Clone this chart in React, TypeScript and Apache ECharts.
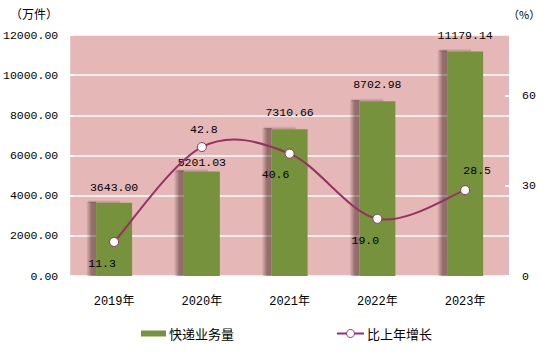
import React, { useEffect, useRef } from "react";
import * as echarts from "echarts";

const categories = ["2019年", "2020年", "2021年", "2022年", "2023年"];
const volume = [3643.0, 5201.03, 7310.66, 8702.98, 11179.14];
const growth = [11.3, 42.8, 40.6, 19.0, 28.5];
const growthLabelOffsets: [number, number][] = [
  [-12, 22],
  [2, -18],
  [-14, 21],
  [-12, 22],
  [12, -20],
];
const volumeLabelDistances = [10, 3, 11, 11, 10];

const FONT = "'Liberation Mono', 'Noto Sans CJK SC', monospace";
const CJK = "'Noto Sans CJK SC', sans-serif";
const BAR_W = 36;
const LINE_COLOR = "#953163";

export default function App() {
  const ref = useRef<HTMLDivElement>(null);
  useEffect(() => {
    if (!ref.current) return;
    const chart = echarts.init(ref.current, undefined, { renderer: "svg" });
    const sideShadow = new echarts.graphic.LinearGradient(0, 0, 1, 0, [
      { offset: 0, color: "rgba(30,0,0,0)" },
      { offset: 0.55, color: "rgba(30,0,0,0.4)" },
      { offset: 1, color: "rgba(30,0,0,0.42)" },
    ]);
    const topShadow = new echarts.graphic.LinearGradient(0, 0, 0, 1, [
      { offset: 0, color: "rgba(30,0,0,0)" },
      { offset: 1, color: "rgba(30,0,0,0.22)" },
    ]);
    const legendText = { fontFamily: CJK, fontSize: 13, color: "#000", padding: [0, 0, 0, -2] };
    chart.setOption({
      animation: false,
      backgroundColor: "#ffffff",
      grid: {
        left: 69,
        right: 47,
        top: 35,
        bottom: 86,
        show: true,
        backgroundColor: "#E5B7B7",
        borderWidth: 0,
      },
      graphic: [
        {
          type: "text",
          left: 10,
          top: 7,
          style: { text: "（万件）", font: `12px ${CJK}`, fill: "#000" },
        },
        {
          type: "text",
          left: 508,
          top: 8,
          style: { text: "（%）", font: `11px ${CJK}`, fill: "#000" },
        },
      ],
      legend: [
        {
          left: 136,
          top: 322,
          itemWidth: 25,
          itemHeight: 6,
          textStyle: legendText,
          data: [{ name: "快递业务量", icon: "rect" }],
        },
        {
          left: 331,
          top: 322,
          itemWidth: 27,
          itemHeight: 10,
          textStyle: legendText,
          data: [
            {
              name: "比上年增长",
              lineStyle: { color: LINE_COLOR, width: 2, opacity: 1 },
              itemStyle: { color: "#fff", borderColor: LINE_COLOR, borderWidth: 1, opacity: 1 },
            },
          ],
        },
      ],
      xAxis: {
        type: "category",
        data: categories,
        axisLine: { show: false },
        axisTick: { show: false },
        axisLabel: { fontFamily: FONT, fontSize: 12, color: "#000", margin: 20 },
      },
      yAxis: [
        {
          type: "value",
          min: 0,
          max: 12000,
          interval: 2000,
          axisLine: { show: false },
          axisTick: { show: true, inside: true, length: 4, lineStyle: { color: "#fff", width: 2 } },
          splitLine: { show: true, lineStyle: { color: "#fff", width: 1.5 } },
          axisLabel: {
            fontFamily: FONT,
            fontSize: 11.5,
            color: "#000",
            margin: 12,
            formatter: (v: number) => v.toFixed(2),
          },
        },
        {
          type: "value",
          min: 0,
          max: 80,
          interval: 30,
          axisLine: { show: false },
          axisTick: { show: true, inside: true, length: 4, lineStyle: { color: "#fff", width: 2 } },
          splitLine: { show: false },
          axisLabel: {
            fontFamily: FONT,
            fontSize: 11.5,
            color: "#000",
            margin: 13,
            showMaxLabel: false,
          },
        },
      ],
      series: [
        {
          name: "shadow",
          type: "custom",
          yAxisIndex: 0,
          z: 1,
          silent: true,
          encode: { x: 0, y: 1 },
          data: volume.map((v, i) => [i, v]),
          renderItem: (params: any, api: any) => {
            const top = api.coord([api.value(0), api.value(1)]);
            const base = api.coord([api.value(0), 0]);
            const left = top[0] - BAR_W / 2;
            return {
              type: "group",
              children: [
                {
                  type: "rect",
                  shape: { x: left - 10, y: top[1] - 1, width: 10, height: base[1] - top[1] + 1 },
                  style: { fill: sideShadow },
                },
                {
                  type: "rect",
                  shape: { x: left - 8, y: top[1] - 3, width: BAR_W - 4, height: 3 },
                  style: { fill: topShadow },
                },
              ],
            };
          },
        },
        {
          name: "快递业务量",
          type: "bar",
          yAxisIndex: 0,
          barWidth: BAR_W,
          z: 2,
          data: volume.map((v, i) => ({
            value: v,
            label: { distance: volumeLabelDistances[i] },
          })),
          itemStyle: { color: "#77923C" },
          label: {
            show: true,
            position: "top",
            fontFamily: FONT,
            fontSize: 11.5,
            color: "#000",
            formatter: (p: any) => Number(p.value).toFixed(2),
          },
        },
        {
          name: "curve",
          type: "custom",
          yAxisIndex: 1,
          z: 4,
          silent: true,
          encode: { x: 0, y: 1 },
          data: growth.map((v, i) => [i, v]),
          renderItem: (params: any, api: any) => {
            const i = params.dataIndex;
            const n = growth.length;
            if (i >= n - 1) return { type: "group", children: [] };
            const p = (j: number) => {
              const k = Math.max(0, Math.min(n - 1, j));
              return api.coord([k, growth[k]]);
            };
            const p0 = p(i - 1);
            const p1 = p(i);
            const p2 = p(i + 1);
            const p3 = p(i + 2);
            return {
              type: "bezierCurve",
              shape: {
                x1: p1[0],
                y1: p1[1],
                x2: p2[0],
                y2: p2[1],
                cpx1: p1[0] + (p2[0] - p0[0]) / 6,
                cpy1: p1[1] + (p2[1] - p0[1]) / 6,
                cpx2: p2[0] - (p3[0] - p1[0]) / 6,
                cpy2: p2[1] - (p3[1] - p1[1]) / 6,
              },
              style: { stroke: LINE_COLOR, lineWidth: 2, fill: null },
            };
          },
        },
        {
          name: "比上年增长",
          type: "line",
          yAxisIndex: 1,
          symbol: "circle",
          symbolSize: 9,
          lineStyle: { color: LINE_COLOR, width: 2, opacity: 0 },
          itemStyle: { color: "#fff", borderColor: LINE_COLOR, borderWidth: 1 },
          data: growth.map((v, i) => ({
            value: v,
            label: { offset: growthLabelOffsets[i] },
          })),
          label: {
            show: true,
            position: "inside",
            fontFamily: FONT,
            fontSize: 11.5,
            color: "#000",
            formatter: (p: any) => Number(p.value).toFixed(1),
          },
          z: 5,
        },
      ],
    });
    return () => chart.dispose();
  }, []);
  return (
    <div
      ref={ref}
      style={{ position: "fixed", left: 0, top: 0, width: 556, height: 362 }}
    />
  );
}
